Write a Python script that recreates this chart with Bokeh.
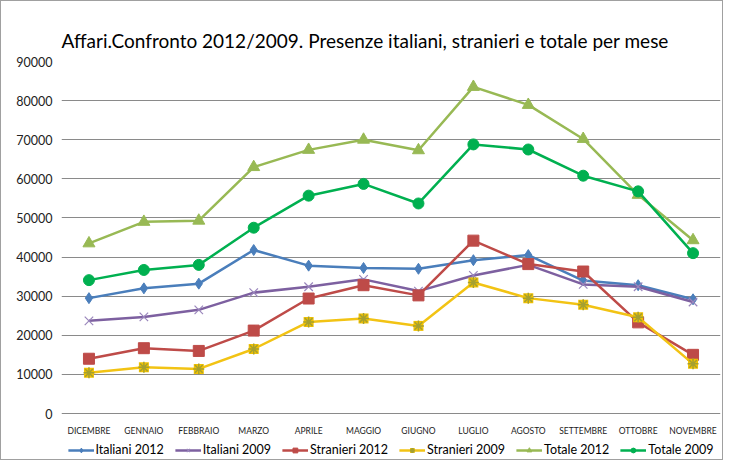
from bokeh.plotting import figure
from bokeh.models import FactorRange, Range1d, FixedTicker, BasicTickFormatter, Legend, LegendItem
from bokeh.embed import file_html
from bokeh.resources import INLINE

months = ["DICEMBRE", "GENNAIO", "FEBBRAIO", "MARZO", "APRILE", "MAGGIO",
          "GIUGNO", "LUGLIO", "AGOSTO", "SETTEMBRE", "OTTOBRE", "NOVEMBRE"]
y_ticks = [0, 10000, 20000, 30000, 40000, 50000, 60000, 70000, 80000, 90000]

italiani_2012 = [29500, 32000, 33200, 41800, 37800, 37200, 37000, 39200, 40500, 34000, 32800, 29200]
italiani_2009 = [23700, 24700, 26500, 30900, 32400, 34300, 31300, 35300, 38000, 33000, 32400, 28500]
stranieri_2012 = [14000, 16700, 16000, 21200, 29400, 32800, 30200, 44200, 38200, 36300, 23300, 15000]
stranieri_2009 = [10400, 11800, 11400, 16500, 23400, 24300, 22400, 33500, 29500, 27800, 24600, 12700]
totale_2012 = [43500, 49000, 49300, 63000, 67400, 70000, 67300, 83500, 78900, 70200, 55900, 44300]
totale_2009 = [34100, 36700, 38000, 47500, 55700, 58700, 53700, 68800, 67500, 60800, 56800, 41000]

FONT = "Lato"

p = figure(width=723, height=460, x_range=FactorRange(*months), y_range=Range1d(-11760, 90000),
           output_backend="svg", toolbar_location=None,
           title="Affari.Confronto 2012/2009. Presenze italiani, stranieri e totale per mese",
           min_border_left=60, min_border_right=4, min_border_top=60, min_border_bottom=2)
p.styles = {"border": "1px solid #a0a0a0"}

p.title.align = "left"
p.title.text_font = FONT
p.title.text_font_size = "19px"
p.title.text_font_style = "normal"
p.title.text_color = "#000000"
p.title.offset = 0
p.title.standoff = 20

p.outline_line_color = None
p.xgrid.grid_line_color = None
p.ygrid.grid_line_color = "#8a8a8a"
p.ygrid.grid_line_width = 1

p.yaxis.ticker = FixedTicker(ticks=y_ticks)
p.yaxis.formatter = BasicTickFormatter(use_scientific=False)
p.yaxis.axis_line_color = None
p.yaxis.major_tick_line_color = None
p.yaxis.minor_tick_line_color = None
p.yaxis.major_label_text_font = FONT
p.yaxis.major_label_text_font_size = "12.5px"
p.yaxis.major_label_text_color = "#222222"
p.yaxis.major_label_standoff = 3

p.xaxis.visible = False

# month labels under the zero line
p.text(x=months, y=[0] * len(months), text=months, y_offset=12,
       text_align="center", text_baseline="top", text_font_size="8.5px",
       text_color="#222222", text_font={"value": FONT})

items = []

def add_series(vals, color, marker, msize, label, mcolor=None):
    r_line = p.line(months, vals, line_color=color, line_width=2.5)
    rs = [r_line]
    mc = mcolor or color
    if marker == "star":
        r1 = p.scatter(months, vals, marker="square", size=10, fill_color="#F2C200",
                       line_color=None)
        r2 = p.scatter(months, vals, marker="asterisk", size=11, line_color="#A5A030",
                       line_width=1.5)
        rs += [r1, r2]
    elif marker == "x":
        r1 = p.scatter(months, vals, marker="x", size=12, line_color=mc, line_width=1.2)
        rs.append(r1)
    else:
        r1 = p.scatter(months, vals, marker=marker, size=msize, fill_color=mc,
                       line_color=mc, line_width=1)
        rs.append(r1)
    items.append(LegendItem(label=label, renderers=rs))

add_series(italiani_2012, "#4A7EBB", "diamond", 11, "Italiani 2012")
add_series(italiani_2009, "#7D60A0", "x", 12, "Italiani 2009", mcolor="#9A86BC")
add_series(stranieri_2012, "#BE4B48", "square", 11, "Stranieri 2012")
add_series(stranieri_2009, "#F2C314", "star", 11, "Stranieri 2009")
add_series(totale_2012, "#98B954", "triangle", 12, "Totale 2012")
add_series(totale_2009, "#00B050", "circle", 11, "Totale 2009", mcolor="#00B050")

legend = Legend(items=items, orientation="horizontal", location="bottom_center")
legend.label_text_font = FONT
legend.label_text_font_size = "12.5px"
legend.label_text_color = "#000000"
legend.glyph_width = 26
legend.glyph_height = 12
legend.label_standoff = 2
legend.spacing = 11
legend.padding = 2
legend.margin = 2
legend.border_line_color = None
legend.background_fill_alpha = 0
p.add_layout(legend, "center")

open("out.html", "w").write(file_html(p, INLINE))
